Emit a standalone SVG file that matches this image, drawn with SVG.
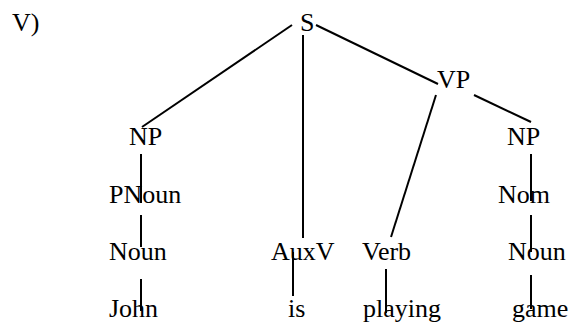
<svg xmlns="http://www.w3.org/2000/svg" width="570" height="322" viewBox="0 0 570 322">
<style>
text{font-family:"Liberation Serif","Times New Roman",serif;font-size:26px;fill:#000}
line{stroke:#000;stroke-width:2}
</style>
<rect width="570" height="322" fill="#fff"/>
<text x="12" y="31">V)</text>
<g id="connectors">
<line x1="292" y1="25" x2="142" y2="127"/>
<line x1="303" y1="35" x2="303" y2="238"/>
<line x1="316" y1="25" x2="438" y2="84"/>
<line x1="436" y1="95" x2="391" y2="237"/>
<line x1="474" y1="95" x2="531" y2="122"/>
<line x1="141" y1="154" x2="141" y2="203"/>
<line x1="141" y1="215" x2="141" y2="247"/>
<line x1="141" y1="279" x2="141" y2="311"/>
<line x1="293" y1="252" x2="293" y2="296"/>
<line x1="386" y1="269" x2="386" y2="313"/>
<line x1="531" y1="154" x2="531" y2="201"/>
<line x1="531" y1="215" x2="531" y2="252"/>
<line x1="531" y1="275" x2="531" y2="309"/>
</g>
<g id="S"><text x="300" y="31">S</text></g>
<g id="VP"><text x="437" y="88">VP</text></g>
<g id="NP1"><text x="129" y="145">NP</text></g>
<g id="PNoun"><text x="109" y="203">PNoun</text></g>
<g id="Noun1"><text x="109" y="260">Noun</text></g>
<g id="John"><text x="109" y="317">John</text></g>
<g id="AuxV"><text x="271" y="260">AuxV</text></g>
<g id="is"><text x="288" y="317">is</text></g>
<g id="Verb"><text x="362" y="260">Verb</text></g>
<g id="playing"><text x="363" y="317">playing</text></g>
<g id="NP2"><text x="507" y="145">NP</text></g>
<g id="Nom"><text x="498" y="203">Nom</text></g>
<g id="Noun2"><text x="508" y="260">Noun</text></g>
<g id="game"><text x="512" y="317">game</text></g>
</svg>
